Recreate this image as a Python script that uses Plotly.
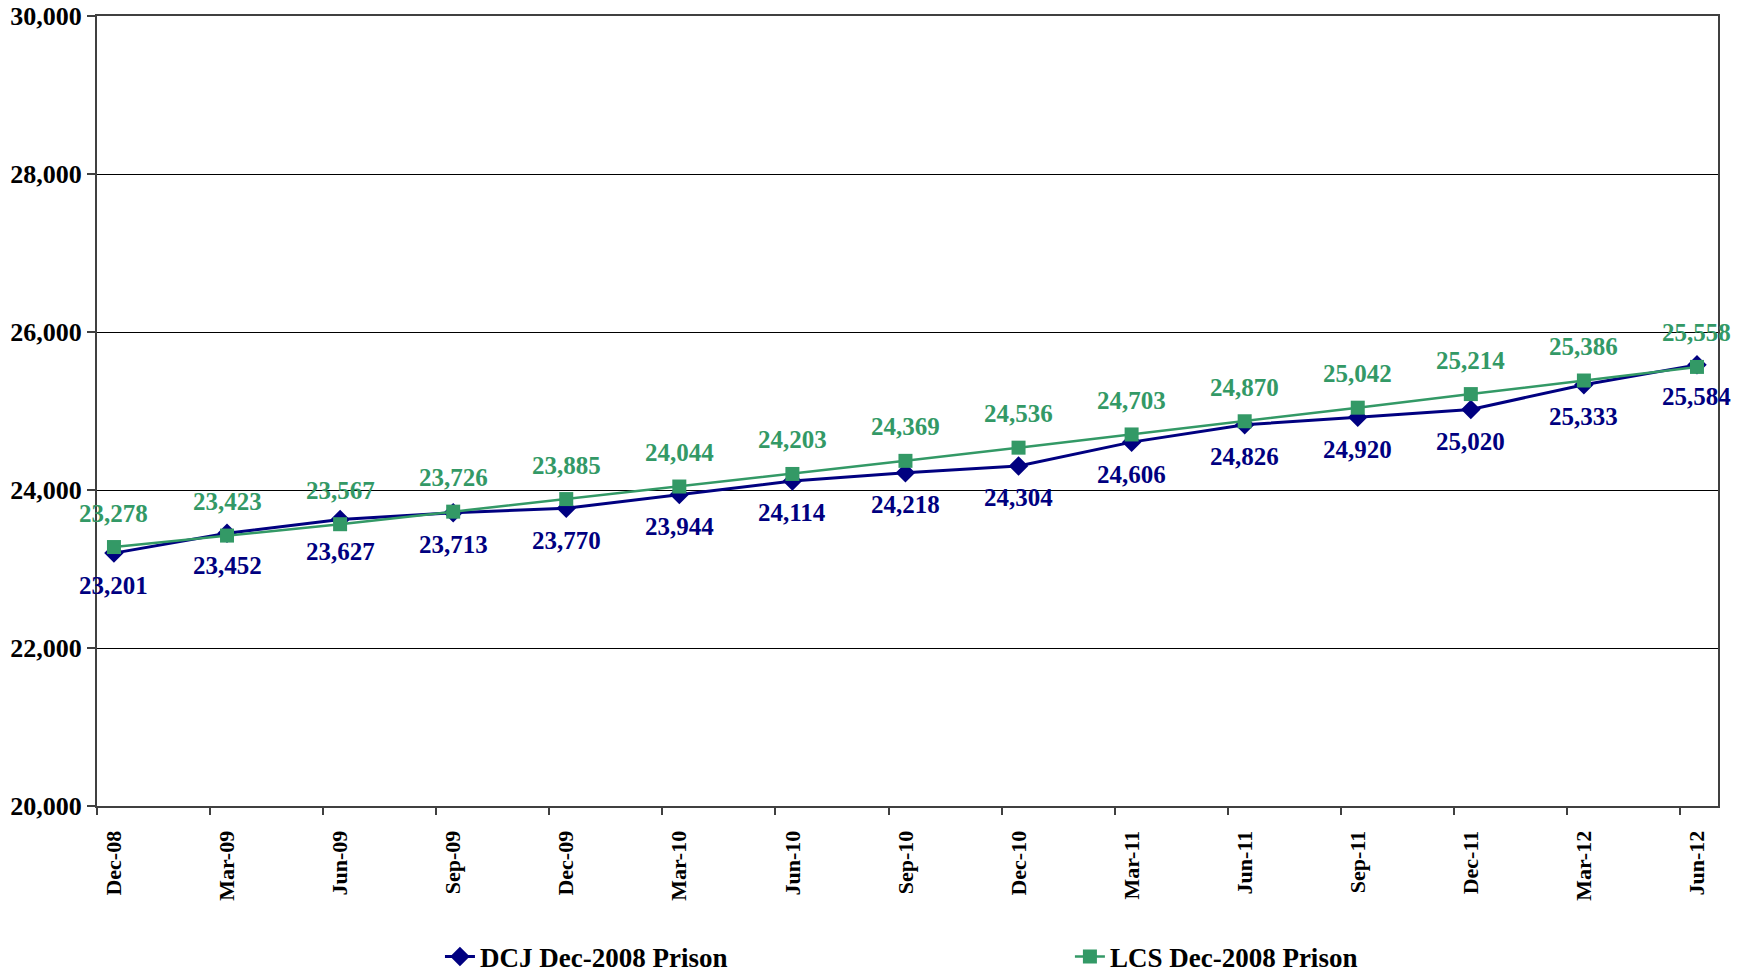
import plotly.graph_objects as go

categories = ["Dec-08", "Mar-09", "Jun-09", "Sep-09", "Dec-09", "Mar-10", "Jun-10",
              "Sep-10", "Dec-10", "Mar-11", "Jun-11", "Sep-11", "Dec-11", "Mar-12", "Jun-12"]
dcj = [23201, 23452, 23627, 23713, 23770, 23944, 24114, 24218, 24304, 24606,
       24826, 24920, 25020, 25333, 25584]
lcs = [23278, 23423, 23567, 23726, 23885, 24044, 24203, 24369, 24536, 24703,
       24870, 25042, 25214, 25386, 25558]
y_ticks = [20000, 22000, 24000, 26000, 28000, 30000]

NAVY = "#000080"
GREEN = "#339966"
FONT = "Liberation Serif"

xs = list(range(len(categories)))
offset = 0.15

fig = go.Figure()
fig.add_trace(go.Scatter(
    x=xs, y=dcj, mode="lines+markers", name="DCJ Dec-2008 Prison",
    line=dict(color=NAVY, width=3),
    marker=dict(symbol="diamond", size=15, color=NAVY),
    legend="legend"))
fig.add_trace(go.Scatter(
    x=xs, y=lcs, mode="lines+markers", name="LCS Dec-2008 Prison",
    line=dict(color=GREEN, width=2.5),
    marker=dict(symbol="square", size=14, color=GREEN),
    legend="legend2"))
# invisible trace to carry the tick-mark axis
fig.add_trace(go.Scatter(x=[xs[0]], y=[dcj[0]], xaxis="x2", mode="markers",
                         marker=dict(opacity=0), showlegend=False, hoverinfo="skip"))

annotations = []
for x, v in zip(xs, lcs):
    annotations.append(dict(x=x, y=v, xref="x", yref="y", text=f"{v:,}", showarrow=False,
                            yshift=34, font=dict(family=FONT, size=25, color=GREEN, weight="bold")))
for x, v in zip(xs, dcj):
    annotations.append(dict(x=x, y=v, xref="x", yref="y", text=f"{v:,}", showarrow=False,
                            yshift=-32, font=dict(family=FONT, size=25, color=NAVY, weight="bold")))

W, H = 1746, 965
xrange = [-offset, 14.186]
fig.update_layout(
    width=W, height=H,
    margin=dict(l=89, r=36, t=8, b=167, autoexpand=False),
    paper_bgcolor="white", plot_bgcolor="white",
    showlegend=True,
    annotations=annotations,
    xaxis=dict(range=xrange, tickmode="array", tickvals=xs, ticktext=categories,
               tickangle=-90, ticks="", showgrid=False, zeroline=False, automargin=False,
               showline=True, linecolor="#404040", linewidth=2, mirror=True,
               ticklabelstandoff=14, ticklabeloverflow="allow",
               tickfont=dict(family=FONT, size=22, color="black", weight="bold")),
    xaxis2=dict(range=xrange, overlaying="x", anchor="y", side="bottom", automargin=False,
                tickmode="array", tickvals=[x - offset for x in xs],
                ticks="outside", ticklen=8, tickwidth=1.5, tickcolor="#404040",
                showticklabels=False, showgrid=False, zeroline=False, showline=False),
    yaxis=dict(range=[20000, 30000], tickmode="array", tickvals=y_ticks,
               ticktext=[f"{t:,}" for t in y_ticks], automargin=False,
               ticks="outside", ticklen=8, tickwidth=1.5, tickcolor="#404040",
               showgrid=True, gridcolor="black", gridwidth=1, zeroline=False,
               showline=True, linecolor="#404040", linewidth=2, mirror=True,
               ticklabelstandoff=0, ticklabeloverflow="allow",
               tickfont=dict(family=FONT, size=26, color="black", weight="bold")),
    legend=dict(x=0.2474, y=0.0166, xref="container", yref="container",
                xanchor="left", yanchor="middle",
                orientation="h", bgcolor="rgba(0,0,0,0)",
                font=dict(family=FONT, size=27, color="black", weight="bold")),
    legend2=dict(x=0.6082, y=0.0166, xref="container", yref="container",
                 xanchor="left", yanchor="middle",
                 orientation="h", bgcolor="rgba(0,0,0,0)",
                 font=dict(family=FONT, size=27, color="black", weight="bold")),
)

fig.write_html("out.html")
